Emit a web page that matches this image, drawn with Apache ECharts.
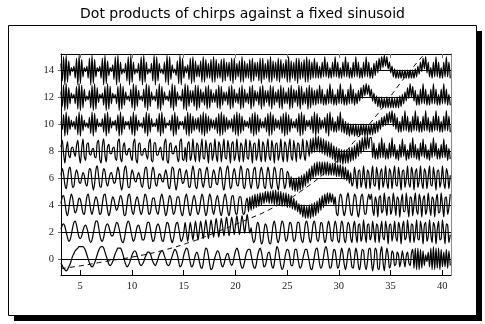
<!DOCTYPE html>
<html>
<head>
<meta charset="utf-8">
<script src="https://cdn.jsdelivr.net/npm/echarts@6/dist/echarts.min.js"></script>
<style>
html,body{margin:0;padding:0;background:#fff}
#chart{width:485px;height:324px}
</style>
</head>
<body>
<div id="chart"></div>
<script>
// sampling of every trace: x = X0 + i*STEP, values in tenths of a y unit
const X0 = 3.14
const STEP = 0.125
const offsets = [0, 2, 4, 6, 8, 10, 12, 14]
const xTicks = [5, 10, 15, 20, 25, 30, 35, 40]
const yTicks = [0, 2, 4, 6, 8, 10, 12, 14]

const trace0 = [
  -3,-5,-7,-8,-9,-8,-6,-4,-1,2,4,6,7,8,9,9,
  9,9,8,6,3,0,-3,-5,-6,-5,-3,0,3,6,8,9,
  9,8,5,2,-1,-4,-5,-4,-2,1,4,6,8,8,8,6,
  3,-1,-4,-6,-5,-3,0,3,5,6,5,2,-1,-4,-5,-4,
  -2,1,3,5,5,4,1,-2,-4,-5,-3,0,3,5,6,5,
  2,-1,-4,-5,-4,-1,2,5,7,6,3,-2,-6,-5,-2,3,
  6,8,7,2,-3,-6,-5,-1,3,5,3,-2,-6,-7,-3,4,
  8,7,2,-4,-8,-7,-3,1,4,6,5,1,-4,-6,-4,0,
  3,4,1,-3,-5,-3,2,6,8,6,1,-4,-7,-6,-2,3,
  6,7,7,3,-2,-6,-7,-4,2,6,8,5,-1,-6,-5,-1,
  4,5,1,-5,-7,-3,4,9,7,1,-5,-8,-6,0,5,7,
  6,1,-5,-5,1,7,7,2,-4,-7,-5,0,4,7,7,3,
  -2,-7,-8,-4,2,7,8,3,-4,-7,-5,1,7,9,5,-2,
  -7,-6,1,7,6,-1,-7,-5,2,8,4,-4,-8,-3,5,8,
  2,-6,-7,1,8,4,-5,-8,0,7,6,-4,-8,-2,7,8,
  -1,-9,-3,8,6,-7,-8,4,9,-2,-9,0,8,3,-7,-4,
  6,4,-5,-4,5,3,-6,-1,6,0,-6,2,5,-3,-5,4,
  7,-7,8,-8,8,-8,7,-7,6,-5,3,-2,5,-6,8,-8,
  9,-8,8,-7,8,-8,7,-6,5,-6,7,-7,6,-5
]

const trace2 = [
  2,5,6,4,0,-4,-7,-6,-2,3,7,8,5,0,-4,-5,
  -3,1,4,5,3,-1,-6,-8,-6,-1,4,8,8,4,-2,-6,
  -7,-4,1,5,6,4,0,-3,-3,0,4,7,6,2,-3,-7,
  -8,-5,1,6,8,6,1,-4,-7,-5,0,4,5,2,-2,-6,
  -6,-2,3,7,7,3,-3,-7,-6,-1,4,6,4,-1,-6,-7,
  -3,3,7,6,1,-5,-8,-5,1,6,7,3,-3,-7,-5,0,
  7,0,-7,0,7,1,-6,1,8,1,-6,1,8,2,-5,2,
  9,2,-5,2,9,3,-4,3,10,3,-4,3,10,4,-3,4,
  11,4,-3,4,11,5,-2,5,12,5,-2,5,12,6,-1,6,
  13,6,-1,3,-4,-8,-6,2,7,5,-3,-9,-7,1,6,4,
  -2,-8,-9,-3,5,8,3,-5,-8,-4,4,8,6,-2,-7,-5,
  2,7,6,-1,-7,-6,1,7,7,0,-6,-8,-2,6,8,3,
  -5,-8,-2,6,8,2,-6,-7,0,7,6,-2,-8,-5,4,8,
  3,-6,-7,2,8,4,-6,-8,1,8,5,-5,-8,0,7,5,
  -4,-8,3,8,-2,-8,5,6,-7,-3,9,-1,-8,5,6,-6,
  -3,8,0,-8,6,4,-8,1,8,-4,-6,8,2,-9,5,6,
  -7,-1,8,-4,-7,7,3,-9,3,8,-6,-4,9,-1,-8,6,
  5,-8,-1,9,-5,-6,8,2,-9,5,7,-7,-3,9,-2,-8,
  7,4,-9,2,8,-6,-5,9,0,-9,6,5,-8,-2
]

const trace4 = [
  1,6,7,2,-5,-8,-3,4,8,5,-2,-6,-4,1,5,4,
  -1,-6,-7,-1,6,8,3,-4,-7,-3,3,6,4,-2,-7,-6,
  1,7,8,3,-4,-8,-5,2,6,4,-1,-4,-2,3,7,5,
  -2,-8,-7,0,7,8,2,-5,-7,-2,4,6,2,-4,-7,-4,
  3,8,6,-1,-7,-6,0,5,5,0,-5,-7,-2,5,8,4,
  -3,-8,-5,2,7,5,-2,-7,-5,1,6,6,0,-6,-8,-2,
  5,8,3,-5,-8,-3,4,7,3,-4,-7,-4,3,8,5,-3,
  -8,-5,3,8,5,-3,-7,-3,4,7,2,-5,-8,-3,5,8,
  3,-5,-8,-2,6,7,1,-6,-7,0,6,6,-1,-7,-6,2,
  5,-5,6,-4,7,-3,8,-2,8,-1,9,0,9,1,10,2,
  10,1,10,1,11,0,11,0,10,0,10,-1,9,-1,9,-2,
  8,-2,7,-3,5,-4,3,-5,1,-7,0,-9,0,-10,-1,-10,
  0,-10,1,-9,2,-8,3,-6,5,-4,7,-2,8,0,9,1,
  9,2,8,0,6,-6,-8,2,8,6,-3,-8,-4,5,9,2,
  -6,-8,1,8,6,-4,-9,-3,6,8,0,-7,-6,3,8,4,
  8,-3,-8,6,2,-9,5,7,-6,-4,9,0,-8,5,6,-7,
  -3,9,1,-8,6,4,-9,2,8,-5,-5,9,-1,-9,6,5,
  -8,1,9,-4,-7,8,3,-9,4,7,-7,-3,9,-1,-8,6,
  4,-9,3,8,-6,-5,9,0,-9,5,6,-7,-2,8
]

const trace6 = [
  2,7,3,-5,-8,-2,6,8,1,-7,-6,2,6,3,-3,-4,
  0,4,2,-4,-6,0,7,6,-3,-9,-4,6,9,2,-6,-7,
  1,7,5,-3,-6,-2,3,4,0,-4,-3,3,8,4,-5,-9,
  -3,6,9,2,-7,-7,1,6,3,-2,-3,1,4,1,-5,-7,
  0,7,8,0,-8,-7,2,8,5,-4,-6,-1,3,2,-2,-3,
  2,6,2,-6,-8,0,8,7,-3,-9,-4,5,7,1,-4,-3,
  3,6,0,-7,-6,3,9,4,-6,-8,0,7,6,-3,-7,-2,
  5,8,1,-7,-7,1,6,3,-4,-5,2,8,5,-5,-9,-2,
  6,9,1,-8,-6,3,7,2,-5,-6,2,9,5,-6,-8,0,
  7,6,-3,-8,-2,6,8,-1,-8,-5,4,8,3,-6,-8,1,
  8,4,-5,-8,1,8,5,-4,-9,-2,7,7,-2,-8,-4,5,
  3,-7,1,-9,0,-10,0,-10,1,-9,2,-8,3,-6,5,-4,
  7,-2,9,0,11,1,12,2,12,2,12,2,12,2,12,2,
  11,2,11,2,11,1,10,1,10,0,9,-1,8,-2,6,-4,
  4,-6,-3,8,1,-8,5,6,-7,-2,9,-2,-8,6,4,-8,
  1,9,-5,-6,8,2,-9,4,7,-7,-2,9,-3,-8,7,4,
  -8,2,9,-5,-6,8,1,-9,5,6,-7,-1,9,-4,-7,8,
  3,-9,4,7,-7,-2,9,-3,-8,7,4,-8,1,9,-5,-6,
  8,1,-9,5,6,-7,-2,9,-3,-8,7,3,-8,2
]

const trace8 = [
  3,8,-2,-9,1,7,-3,-5,2,3,-1,-4,4,8,-3,-9,
  2,9,-4,-7,5,6,-2,-3,1,2,-4,-5,6,8,-6,-9,
  4,9,-3,-8,3,5,-2,-2,2,3,-5,-7,7,9,-5,-8,
  3,6,-2,-3,1,2,-4,-7,6,9,-6,-9,5,6,-3,-3,
  1,2,-3,-6,6,9,-7,-8,6,6,-3,-3,1,3,-4,-7,
  6,9,-7,-9,5,6,-2,-2,2,4,-5,-8,7,9,-6,-7,
  3,-8,5,7,-7,-3,9,-2,-8,6,4,-8,1,9,-5,-6,
  8,1,-9,5,6,-7,-2,9,-3,-8,7,4,-8,1,9,-5,
  -6,8,2,-9,5,7,-7,-3,9,-2,-8,6,4,-8,1,9,
  -5,-6,8,2,-9,5,6,-7,-2,9,-3,-8,7,4,-8,1,
  9,-4,-7,8,2,-9,5,6,-7,-2,9,-3,-8,7,4,-8,
  2,9,-4,-7,8,1,-8,6,5,-6,-1,9,-3,-7,8,3,
  -4,9,-2,10,-1,11,0,11,-1,10,-2,9,-3,8,-4,7,
  -5,6,-6,4,-8,3,-9,2,-9,1,-10,1,-9,1,-9,2,
  -8,3,-7,4,-6,6,-4,8,-2,10,0,11,1,11,2,10,
  10,-5,6,-6,2,-6,6,-5,10,-5,6,-6,2,-6,6,-5,
  10,-4,5,-6,1,-7,5,-5,9,-4,5,-7,1,-6,6,-5,
  10,-5,5,-6,2,-7,6,-4,9,-5,5,-6,1,-7,6,-5,
  10,-4,6,-6,2,-6,5,-5,9,-5,5,-7,2,-6
]

const trace10 = [
  2,-4,7,-9,9,-8,6,-4,3,-2,2,-4,6,-8,9,-9,
  7,-5,3,-2,1,-3,5,-7,9,-9,8,-6,4,-2,1,-2,
  4,-6,8,-9,9,-7,5,-3,2,-1,3,-5,7,-9,9,-8,
  6,-4,2,-1,2,-4,6,-8,9,-9,7,-5,3,-2,1,-3,
  5,-7,9,-9,8,-6,4,-2,1,-2,4,-6,8,-9,9,-7,
  5,-3,1,-1,3,-5,7,-9,9,-8,6,-4,2,-1,2,-4,
  6,-8,9,-9,8,-7,6,-5,4,-4,5,-6,7,-8,9,-9,
  8,-7,6,-5,4,-3,3,-4,5,-7,8,-9,9,-8,7,-6,
  5,-4,3,-3,4,-6,7,-8,9,-9,8,-7,6,-5,3,-2,
  2,-3,5,-7,8,-9,9,-8,7,-6,4,-3,2,-3,5,-6,
  8,-9,9,-8,7,-5,4,-3,3,-4,6,-7,8,-9,9,-8,
  7,-6,4,-3,2,-3,4,-6,8,-9,9,-8,7,-5,3,-2,
  3,-4,6,-7,9,-9,8,-7,5,-4,3,-3,5,-7,8,-9,
  9,-5,5,-6,2,-6,6,-5,9,-6,4,-7,2,-8,1,-9,
  0,-8,0,-9,0,-9,-1,-9,0,-8,0,-9,0,-9,-1,-8,
  0,-8,1,-7,2,-6,3,-4,5,-2,6,-1,8,0,9,1,
  10,-2,8,-4,5,-6,2,-6,6,-5,10,-5,6,-6,2,-6,
  6,-5,10,-5,6,-6,2,-6,6,-5,10,-5,5,-6,2,-6,
  6,-5,10,-5,6,-6,2,-6,6,-5,10,-5,6,-6
]

const trace12 = [
  4,-7,9,-10,10,-9,7,-5,3,-1,2,-5,8,-9,10,-10,
  9,-8,6,-3,1,-2,5,-8,9,-10,10,-9,7,-4,2,-1,
  3,-6,8,-10,10,-9,8,-5,3,-1,2,-5,8,-10,10,-9,
  8,-6,4,-2,1,-3,6,-8,10,-10,9,-7,5,-2,1,-3,
  6,-8,10,-10,9,-7,4,-2,1,-3,6,-9,10,-10,8,-6,
  4,-2,1,-3,5,-8,10,-10,9,-7,4,-2,1,-3,6,-9,
  10,-10,9,-7,5,-4,5,-7,9,-10,9,-8,6,-4,4,-6,
  8,-9,9,-8,6,-4,3,-4,6,-8,9,-9,8,-6,4,-3,
  4,-6,8,-9,9,-8,6,-4,3,-5,7,-9,9,-8,6,-4,
  3,-5,8,-9,9,-7,5,-3,4,-6,8,-9,9,-7,5,-4,
  5,-7,9,-9,8,-6,4,-4,6,-8,9,-9,7,-5,4,-5,
  7,-9,9,-8,6,-4,5,-7,9,-9,8,-6,4,-5,7,-9,
  9,-8,7,-6,5,-6,6,-5,9,-5,6,-6,2,-6,6,-5,
  10,-5,6,-6,2,-6,6,-5,10,-5,6,-6,2,-6,6,-5,
  10,-5,6,-6,3,-5,5,-3,7,-1,9,1,10,2,9,0,
  6,-3,3,-5,1,-7,0,-8,0,-8,-1,-8,0,-8,-1,-8,
  0,-8,-1,-8,0,-8,1,-7,2,-5,4,-3,7,-1,10,0,
  8,-3,5,-6,2,-6,6,-5,10,-5,6,-6,2,-6,6,-5,
  10,-5,6,-6,2,-6,6,-5,10,-5,6,-6,2,-6
]

const trace14 = [
  5,-8,10,-11,11,-9,7,-4,2,-1,3,-6,9,-11,11,-10,
  8,-5,2,-1,3,-6,9,-11,11,-10,8,-5,2,-1,3,-6,
  9,-11,11,-10,7,-4,2,-1,4,-7,10,-11,11,-9,6,-3,
  1,-2,5,-8,10,-11,11,-9,6,-3,1,-2,5,-8,10,-11,
  11,-9,6,-3,1,-2,5,-8,11,-11,10,-8,5,-2,1,-3,
  6,-9,11,-11,10,-7,4,-2,1,-4,7,-10,11,-11,9,-6,
  3,-2,4,-7,9,-10,10,-9,7,-5,4,-5,7,-9,10,-9,
  8,-6,5,-6,8,-9,10,-9,8,-6,5,-6,8,-9,9,-8,
  6,-5,6,-8,9,-10,9,-7,5,-5,7,-9,10,-9,7,-6,
  5,-6,8,-9,9,-8,6,-5,6,-8,9,-10,9,-7,5,-6,
  8,-9,10,-9,7,-6,6,-8,9,-9,8,-6,5,-6,8,-9,
  10,-9,7,-6,6,-8,9,-10,9,-7,6,-6,8,-9,10,-9,
  8,-7,6,-6,9,-6,6,-6,3,-6,6,-5,10,-5,6,-6,
  2,-6,6,-5,10,-5,6,-6,2,-6,6,-5,10,-5,6,-6,
  2,-6,6,-5,10,-5,6,-6,2,-6,6,-5,10,-5,6,-6,
  2,-6,5,-4,7,-2,9,0,10,2,11,3,10,1,6,-2,
  3,-5,1,-6,0,-6,0,-6,0,-6,0,-6,0,-6,0,-6,
  0,-6,1,-5,3,-3,6,-1,9,1,10,-2,6,-5,2,-6,
  6,-5,10,-5,6,-6,2,-6,6,-5,10,-5,6,-6
]

// dashed guide curve
const dashX = [3.14, 5.0, 7.4, 10.3, 13.2, 15.8, 17.5, 21.4, 23.4, 26.3, 29.5, 31.7, 33.8, 35.9, 37.7, 38.3]
const dashY = [-0.72, -0.52, -0.2, 0.17, 0.67, 1.28, 1.78, 3.0, 3.7, 5.0, 7.0, 8.9, 10.8, 13.0, 14.7, 15.2]

const traces = [trace0, trace2, trace4, trace6, trace8, trace10, trace12, trace14]

const chart = echarts.init(document.getElementById('chart'))

let series = []
traces.forEach((vals, k) => {
  const base = offsets[k]
  series.push({
    type: 'line',
    data: vals.map((v, i) => [X0 + i * STEP, base + v / 10]),
    showSymbol: false,
    symbol: 'none',
    smooth: 0.3,
    lineStyle: {color: '#000', width: 1.2},
    markLine: {
      silent: true,
      symbol: 'none',
      label: {show: false},
      lineStyle: {color: '#000', width: 1, type: 'solid'},
      data: [{yAxis: base}]
    }
  })
})
series.push({
  type: 'line',
  data: dashX.map((x, i) => [x, dashY[i]]),
  showSymbol: false,
  symbol: 'none',
  smooth: true,
  lineStyle: {color: '#000', width: 1, type: [5, 4]}
})

const labelFont = {color: '#222', fontFamily: 'Liberation Serif', fontSize: 10.5}

chart.setOption({
  animation: false,
  title: {
    text: 'Dot products of chirps against a fixed sinusoid',
    left: 'center',
    top: 2,
    textStyle: {fontFamily: 'DejaVu Sans', fontSize: 14, fontWeight: 'normal', color: '#000'}
  },
  graphic: [
    {type: 'rect', z: -10, shape: {x: 14, y: 31, width: 468, height: 290}, style: {fill: '#000'}},
    {type: 'rect', z: -9, shape: {x: 8.5, y: 25.5, width: 468, height: 290}, style: {fill: '#fff', stroke: '#000', lineWidth: 1}}
  ],
  grid: {left: 61, right: 34, top: 54, bottom: 49},
  xAxis: [
    {
      type: 'value', min: 3.14, max: 40.84, position: 'bottom',
      axisLine: {show: true, onZero: false, lineStyle: {color: '#000', width: 1}},
      axisTick: {show: true, inside: true, length: 5, customValues: xTicks, lineStyle: {color: '#000'}},
      axisLabel: Object.assign({customValues: xTicks, margin: 6}, labelFont),
      splitLine: {show: false}
    },
    {
      type: 'value', min: 3.14, max: 40.84, position: 'top',
      axisLine: {show: true, onZero: false, lineStyle: {color: '#000', width: 1}},
      axisTick: {show: true, inside: true, length: 4, customValues: xTicks, lineStyle: {color: '#777'}},
      axisLabel: {show: false},
      splitLine: {show: false}
    }
  ],
  yAxis: [
    {
      type: 'value', min: -1.2, max: 15.2, position: 'left',
      axisLine: {show: true, onZero: false, lineStyle: {color: '#000', width: 1}},
      axisTick: {show: true, inside: false, length: 3, customValues: yTicks, lineStyle: {color: '#666'}},
      axisLabel: Object.assign({customValues: yTicks, margin: 7}, labelFont),
      splitLine: {show: false}
    },
    {
      type: 'value', min: -1.2, max: 15.2, position: 'right',
      axisLine: {show: true, onZero: false, lineStyle: {color: '#888', width: 1}},
      axisTick: {show: false},
      axisLabel: {show: false},
      splitLine: {show: false}
    }
  ],
  series: series
})
</script>
</body>
</html>
